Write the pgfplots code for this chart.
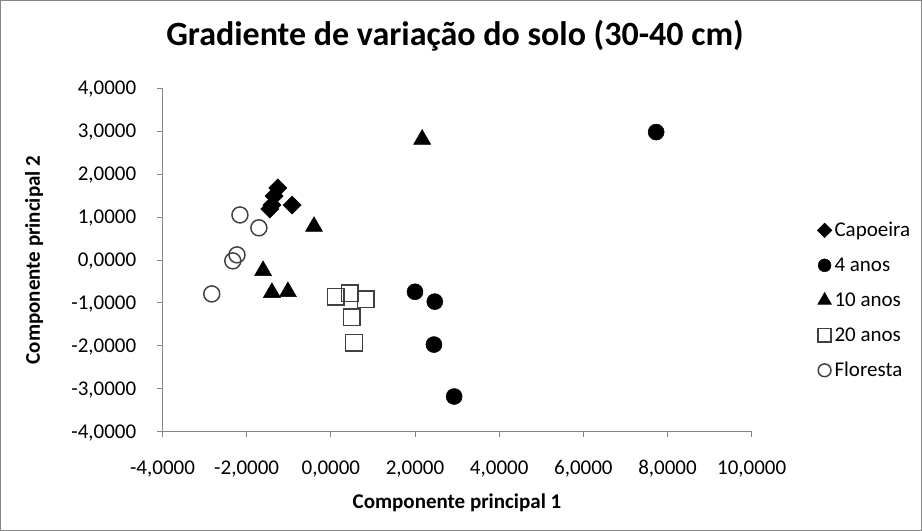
\documentclass[border=0pt]{standalone}
\usepackage{fontspec}
\setmainfont{Carlito}
\usepackage{pgfplots}
\pgfplotsset{compat=1.18}
\definecolor{axgray}{RGB}{134,134,134}
\definecolor{mkgray}{RGB}{64,64,64}

\newcommand{\lblfont}{\fontsize{15.75}{18}\selectfont}

\begin{document}
\begin{tikzpicture}
% chart frame (1px = 0.75pt)
\draw[axgray, line width=0.75pt] (0.375pt,-0.375pt) rectangle (691.125pt,-397.875pt);

\begin{axis}[
    at={(121.875pt,-323.775pt)}, anchor=south west,
    scale only axis, width=441.9pt, height=257.55pt,
    xmin=-4, xmax=10, ymin=-4, ymax=4,
    xtick={-4,-2,...,10}, ytick={-4,-3,...,4},
    axis x line=bottom, axis y line=left,
    axis line style={-, axgray, line width=0.75pt},
    tick style={axgray, line width=0.75pt},
    tick align=outside, major tick length=3.75pt,
    /pgf/number format/.cd, fixed, fixed zerofill, precision=4,
        use comma, 1000 sep={}, assume math mode=true,
    /pgfplots/.cd,
    ticklabel style={font=\lblfont, text=black, inner sep=0pt},
    xticklabel style={anchor=base, yshift=-28pt},
    yticklabel style={anchor=base east, xshift=-15.75pt, yshift=-5pt},
    clip=false,
    legend style={at={(1.111,0.6144)}, anchor=north west, draw=none, fill=none,
        inner sep=0pt, font=\lblfont, row sep=9.25pt, column sep=2pt,
        nodes={inner sep=0pt, text height=12pt, text depth=5pt}},
    legend cell align=left,
    legend image code/.code={\draw[mark repeat=2,mark phase=2,#1,
        every mark/.append style={scale=0.8}]
        plot coordinates {(0pt,1.5pt)(5pt,1.5pt)(10pt,1.5pt)};},
]

\addplot[only marks, mark=square*, mark size=4.8pt, mark options={rotate=45, fill=black, draw=black}]
    coordinates {(-1.26,1.68) (-1.35,1.49) (-1.40,1.28) (-1.45,1.19) (-0.92,1.28)};
\addlegendentry{Capoeira}

\addplot[only marks, mark=*, mark size=6pt, mark options={fill=black, draw=black}]
    coordinates {(7.73,2.98) (2.00,-0.74) (2.47,-0.97) (2.45,-1.97) (2.93,-3.18)};
\addlegendentry{4 anos}

\addplot[only marks, mark=triangle*, mark size=7.35pt, mark options={fill=black, draw=black}]
    coordinates {(2.17,2.81) (-0.40,0.78) (-1.61,-0.25) (-1.40,-0.76) (-1.02,-0.74)};
\addlegendentry{10 anos}

\addplot[only marks, mark=square, mark size=6.2pt, mark options={draw=mkgray, fill=white, line width=1.1pt}]
    coordinates {(0.12,-0.86) (0.45,-0.77) (0.83,-0.91) (0.50,-1.33) (0.55,-1.93)};
\addlegendentry{20 anos}

\addplot[only marks, mark=o, mark size=6pt, mark options={draw=mkgray, fill=white, line width=1.1pt}]
    coordinates {(-2.16,1.05) (-1.71,0.75) (-2.23,0.12) (-2.33,-0.02) (-2.83,-0.79)};
\addlegendentry{Floresta}
\end{axis}

\node[anchor=base, font=\fontsize{25.5}{30}\selectfont\bfseries] at (341.25pt,-34.5pt)
    {Gradiente de variação do solo (30-40 cm)};
\node[anchor=base, font=\lblfont\bfseries] at (342.75pt,-381pt) {Componente principal 1};
\node[anchor=base, rotate=90, font=\lblfont\bfseries] at (30pt,-195pt) {Componente principal 2};
\end{tikzpicture}
\end{document}
